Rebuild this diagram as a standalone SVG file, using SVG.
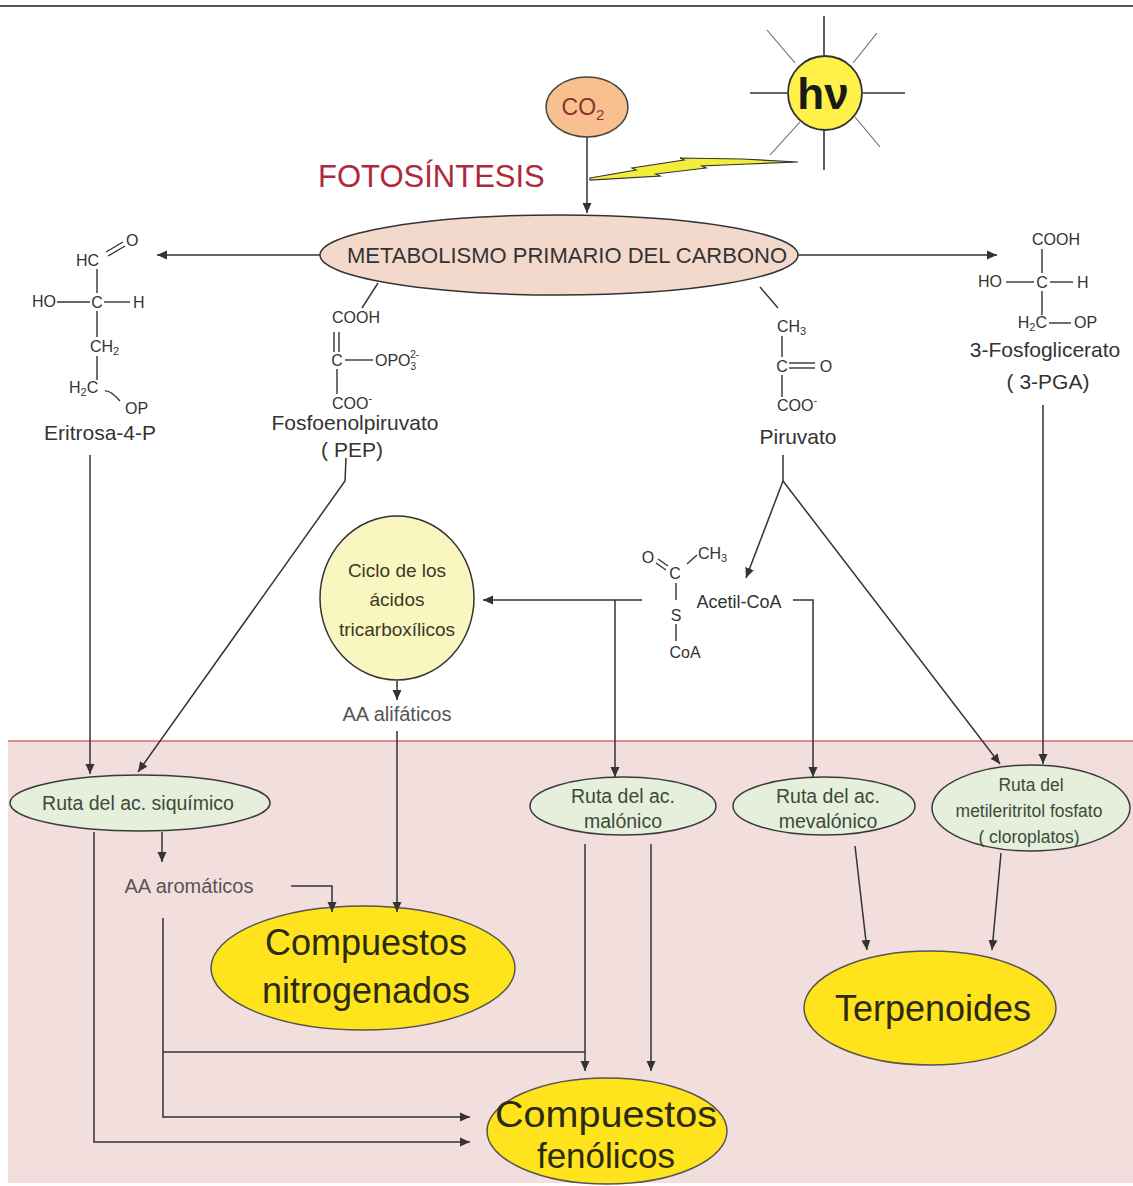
<svg xmlns="http://www.w3.org/2000/svg" width="1133" height="1186" viewBox="0 0 1133 1186">
<style>
text { font-family: "Liberation Sans", Arial, sans-serif; fill: #333; }
.lbl { font-size: 21px; text-anchor: middle; }
.mol { font-size: 16px; }
.bond { stroke: #333; stroke-width: 1.4; fill: none; }
.conn { stroke: #333; stroke-width: 1.5; fill: none; marker-end: url(#ah); }
.line { stroke: #333; stroke-width: 1.5; fill: none; }
.green { fill: #E5EFDB; stroke: #3a3a3a; stroke-width: 1.5; }
.gtext { font-size: 19.5px; text-anchor: middle; fill: #3B4A3B; }
.yellow { fill: #FFE31C; stroke: #555; stroke-width: 1.5; }
.big { font-size: 36px; text-anchor: middle; fill: #2B2B14; }
.aa { font-size: 20px; text-anchor: middle; fill: #555; }
.ray { stroke: #333; stroke-width: 1.6; }
.ray2 { stroke: #666; stroke-width: 1.1; }
.foto { font-size: 31px; fill: #B0283C; }
.co2t { font-size: 23px; text-anchor: middle; fill: #8B3030; }
.hv { font-size: 44px; font-weight: bold; text-anchor: middle; fill: #1a1a1a; }
.cyc { font-size: 19px; text-anchor: middle; fill: #3a3a2a; }
</style>
<defs>
<marker id="ah" viewBox="0 0 10 10" refX="10" refY="5" markerWidth="10" markerHeight="10" markerUnits="userSpaceOnUse" orient="auto">
<path d="M0,0.5 L10,5 L0,9.5 z" fill="#333"/>
</marker>
</defs>
<rect x="0" y="0" width="1133" height="1186" fill="#fff"/>
<line x1="0" y1="6" x2="1133" y2="6" stroke="#555" stroke-width="2"/>
<g id="pink-zone">
<rect x="8" y="741" width="1125" height="442" fill="#F3DEDE"/>
<line x1="8" y1="741" x2="1133" y2="741" stroke="#D46A6A" stroke-width="1.5"/>
</g>
<g id="sun">
<line class="ray" x1="824" y1="16" x2="824" y2="55"/>
<line class="ray" x1="824" y1="130" x2="824" y2="170"/>
<line class="ray" x1="750" y1="93" x2="787" y2="93"/>
<line class="ray" x1="863" y1="93" x2="905" y2="93"/>
<line class="ray2" x1="767" y1="30" x2="795" y2="63"/>
<line class="ray2" x1="877" y1="33" x2="853" y2="63"/>
<line class="ray2" x1="770" y1="155" x2="800" y2="122"/>
<line class="ray2" x1="880" y1="147" x2="855" y2="117"/>
<circle cx="825" cy="93" r="37" fill="#FFF04A" stroke="#333" stroke-width="1.8"/>
<text class="hv" x="823" y="109">hν</text>
</g>
<g id="lightning">
<polygon points="590,178 636,170 632,168 684,160 680,158 742,159 798,162 748,164 702,166 706,168 656,174 660,176 590,180" fill="#F2EC3A" stroke="#333" stroke-width="1.2"/>
</g>
<g id="co2">
<ellipse cx="587" cy="107" rx="41" ry="30" fill="#F8C08E" stroke="#444" stroke-width="1.5"/>
<text class="co2t" x="583" y="115">CO<tspan font-size="15" dy="5">2</tspan></text>
</g>
<g id="fotosintesis">
<text class="foto" x="318" y="187">FOTOSÍNTESIS</text>
</g>
<g id="metabolismo">
<ellipse cx="559" cy="255" rx="239" ry="40" fill="#F3D9CB" stroke="#333" stroke-width="1.5"/>
<text x="567" y="263" font-size="22" text-anchor="middle">METABOLISMO PRIMARIO DEL CARBONO</text>
</g>
<g id="eritrosa">
<text class="mol" x="76" y="266">HC</text>
<line class="bond" x1="106" y1="252" x2="123" y2="242"/>
<line class="bond" x1="108" y1="256" x2="125" y2="246"/>
<text class="mol" x="126" y="246">O</text>
<line class="bond" x1="97" y1="269" x2="97" y2="293"/>
<text class="mol" x="32" y="307">HO</text>
<line class="bond" x1="57" y1="302" x2="90" y2="302"/>
<text class="mol" x="97" y="308" text-anchor="middle">C</text>
<line class="bond" x1="104" y1="302" x2="130" y2="302"/>
<text class="mol" x="133" y="308">H</text>
<line class="bond" x1="97" y1="311" x2="97" y2="337"/>
<text class="mol" x="90" y="352">CH<tspan font-size="11" dy="3">2</tspan></text>
<line class="bond" x1="97" y1="356" x2="97" y2="380"/>
<text class="mol" x="69" y="393">H<tspan font-size="11" dy="3">2</tspan><tspan dy="-3">C</tspan></text>
<path class="bond" d="M105,391 Q110,390 120,401"/>
<text class="mol" x="125" y="414">OP</text>
<text class="lbl" x="100" y="440">Eritrosa-4-P</text>
</g>
<g id="pep">
<line class="bond" x1="378" y1="283" x2="362" y2="308"/>
<text class="mol" x="332" y="323">COOH</text>
<line class="bond" x1="334" y1="332" x2="334" y2="352"/>
<line class="bond" x1="339" y1="332" x2="339" y2="352"/>
<text class="mol" x="337" y="366" text-anchor="middle">C</text>
<line class="bond" x1="345" y1="360" x2="373" y2="360"/>
<text class="mol" x="375" y="366">OPO<tspan font-size="10" dy="4">3</tspan><tspan font-size="10" dx="-6" dy="-12">2-</tspan></text>
<line class="bond" x1="337" y1="369" x2="337" y2="394"/>
<text class="mol" x="332" y="409">COO<tspan font-size="11" dy="-7">-</tspan></text>
<text class="lbl" x="355" y="430">Fosfoenolpiruvato</text>
<text class="lbl" x="352" y="457">( PEP)</text>
</g>
<g id="piruvato">
<line class="bond" x1="760" y1="287" x2="778" y2="308"/>
<text class="mol" x="777" y="332">CH<tspan font-size="11" dy="3">3</tspan></text>
<line class="bond" x1="782" y1="336" x2="782" y2="357"/>
<text class="mol" x="782" y="372" text-anchor="middle">C</text>
<line class="bond" x1="789" y1="363" x2="815" y2="363"/>
<line class="bond" x1="789" y1="368" x2="815" y2="368"/>
<text class="mol" x="826" y="372" text-anchor="middle">O</text>
<line class="bond" x1="782" y1="375" x2="782" y2="397"/>
<text class="mol" x="777" y="411">COO<tspan font-size="11" dy="-7">-</tspan></text>
<text class="lbl" x="798" y="444">Piruvato</text>
</g>
<g id="pga">
<text class="mol" x="1032" y="245">COOH</text>
<line class="bond" x1="1042" y1="249" x2="1042" y2="273"/>
<text class="mol" x="978" y="287">HO</text>
<line class="bond" x1="1006" y1="282" x2="1034" y2="282"/>
<text class="mol" x="1042" y="288" text-anchor="middle">C</text>
<line class="bond" x1="1050" y1="282" x2="1073" y2="282"/>
<text class="mol" x="1077" y="288">H</text>
<line class="bond" x1="1042" y1="291" x2="1042" y2="315"/>
<text class="mol" x="1047" y="328" text-anchor="end">H<tspan font-size="11" dy="3">2</tspan><tspan dy="-3">C</tspan></text>
<line class="bond" x1="1049" y1="323" x2="1071" y2="323"/>
<text class="mol" x="1074" y="328">OP</text>
<text class="lbl" x="1045" y="357">3-Fosfoglicerato</text>
<text class="lbl" x="1048" y="389">( 3-PGA)</text>
</g>
<g id="acetilcoa">
<text x="648" y="563" font-size="16" text-anchor="middle">O</text>
<line class="bond" x1="658" y1="559" x2="668" y2="566"/>
<line class="bond" x1="656" y1="563" x2="666" y2="570"/>
<text x="675" y="579" font-size="16" text-anchor="middle">C</text>
<line class="bond" x1="687" y1="564" x2="697" y2="555"/>
<text x="698" y="559" font-size="16">CH<tspan font-size="11" dy="3">3</tspan></text>
<line class="bond" x1="676" y1="583" x2="676" y2="600"/>
<text x="676" y="621" font-size="16" text-anchor="middle">S</text>
<line class="bond" x1="676" y1="624" x2="676" y2="641"/>
<text x="685" y="658" font-size="16" text-anchor="middle">CoA</text>
<text x="739" y="608" font-size="18" text-anchor="middle">Acetil-CoA</text>
</g>
<g id="ciclo">
<ellipse cx="397" cy="598" rx="77" ry="82" fill="#FAF6C0" stroke="#333" stroke-width="1.5"/>
<text class="cyc" x="397" y="577">Ciclo de los</text>
<text class="cyc" x="397" y="606">ácidos</text>
<text class="cyc" x="397" y="636">tricarboxílicos</text>
</g>
<g id="aa-alifaticos">
<text class="aa" x="397" y="721">AA alifáticos</text>
</g>
<g id="aa-aromaticos">
<text class="aa" x="189" y="893">AA aromáticos</text>
</g>
<g id="ruta-siquimico">
<ellipse class="green" cx="140" cy="803" rx="130" ry="28"/>
<text class="gtext" x="138" y="810">Ruta del ac. siquímico</text>
</g>
<g id="ruta-malonico">
<ellipse class="green" cx="623" cy="806" rx="93" ry="29"/>
<text class="gtext" x="623" y="803">Ruta del ac.</text>
<text class="gtext" x="623" y="828">malónico</text>
</g>
<g id="ruta-mevalonico">
<ellipse class="green" cx="824" cy="806" rx="91" ry="29"/>
<text class="gtext" x="828" y="803">Ruta del ac.</text>
<text class="gtext" x="828" y="828">mevalónico</text>
</g>
<g id="ruta-metileritritol">
<ellipse class="green" cx="1031" cy="808" rx="99" ry="43"/>
<text class="gtext" x="1031" y="791" style="font-size:17.5px">Ruta del</text>
<text class="gtext" x="1029" y="817" style="font-size:17.5px">metileritritol fosfato</text>
<text class="gtext" x="1029" y="843" style="font-size:17.5px">( cloroplatos)</text>
</g>
<g id="nitrogenados">
<ellipse class="yellow" cx="363" cy="968" rx="152" ry="62"/>
<text class="big" x="366" y="955">Compuestos</text>
<text class="big" x="366" y="1003">nitrogenados</text>
</g>
<g id="terpenoides">
<ellipse class="yellow" cx="930" cy="1008" rx="126" ry="57"/>
<text class="big" x="933" y="1021">Terpenoides</text>
</g>
<g id="fenolicos">
<ellipse class="yellow" cx="607" cy="1131" rx="120" ry="53"/>
<text class="big" x="606" y="1127" style="font-size:37px" textLength="222" lengthAdjust="spacingAndGlyphs">Compuestos</text>
<text class="big" x="606" y="1168" style="font-size:35px">fenólicos</text>
</g>
<g id="connectors">
<line class="conn" x1="587" y1="137" x2="587" y2="213"/>
<line class="conn" x1="320" y1="255" x2="157" y2="255"/>
<line class="conn" x1="798" y1="255" x2="997" y2="255"/>
<line class="conn" x1="90" y1="455" x2="90" y2="774"/>
<path class="conn" d="M346,458 L345,481 L138,772"/>
<line class="line" x1="783" y1="455" x2="783" y2="481"/>
<path class="conn" d="M783,481 L746,578"/>
<path class="conn" d="M783,481 L1000,764"/>
<line class="conn" x1="1043" y1="405" x2="1043" y2="764"/>
<line class="conn" x1="642" y1="600" x2="483" y2="600"/>
<path class="conn" d="M615,600 L615,777"/>
<path class="conn" d="M793,600 L813,600 L813,777"/>
<line class="conn" x1="397" y1="681" x2="397" y2="700"/>
<line class="conn" x1="397" y1="731" x2="397" y2="912"/>
<line class="conn" x1="162" y1="832" x2="162" y2="862"/>
<path class="conn" d="M291,886 L332,886 L332,912"/>
<path class="conn" d="M94,832 L94,1142 L470,1142"/>
<path class="conn" d="M163,918 L163,1117 L470,1117"/>
<line class="line" x1="163" y1="1052" x2="585" y2="1052"/>
<line class="conn" x1="585" y1="844" x2="585" y2="1071"/>
<line class="conn" x1="651" y1="844" x2="651" y2="1071"/>
<line class="conn" x1="855" y1="846" x2="867" y2="950"/>
<line class="conn" x1="1001" y1="853" x2="992" y2="950"/>
</g>
</svg>
